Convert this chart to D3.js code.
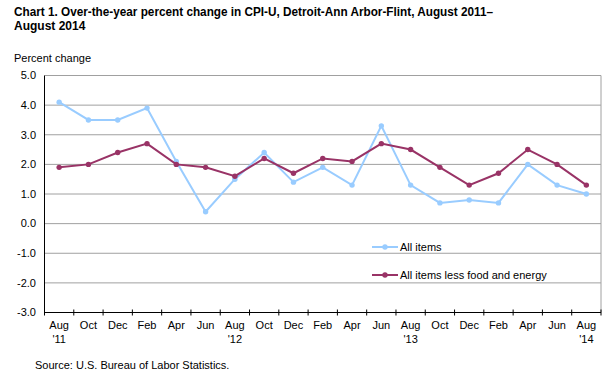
<!DOCTYPE html>
<html>
<head>
<meta charset="utf-8">
<script src="https://cdn.jsdelivr.net/npm/d3@7"></script>
<style>
  body { margin: 0; background: #fff; }
  svg text { font-family: "Liberation Sans", Arial, sans-serif; fill: #000; }
</style>
</head>
<body>
<svg id="chart"></svg>
<script>
const months = ["Aug","Oct","Dec","Feb","Apr","Jun","Aug","Oct","Dec","Feb","Apr","Jun","Aug","Oct","Dec","Feb","Apr","Jun","Aug"];
const yearLabels = ["'11","","","","","","'12","","","","","","'13","","","","","","'14"];
const allItems = [4.1,3.5,3.5,3.9,2.1,0.4,1.5,2.4,1.4,1.9,1.3,3.3,1.3,0.7,0.8,0.7,2.0,1.3,1.0];
const coreItems = [1.9,2.0,2.4,2.7,2.0,1.9,1.6,2.2,1.7,2.2,2.1,2.7,2.5,1.9,1.3,1.7,2.5,2.0,1.3];
const yTicks = [5,4,3,2,1,0,-1,-2,-3];

const width = 615, height = 376;
const margin = { top: 75.5, right: 14, bottom: 63.5, left: 44.5 };

const svg = d3.select("#chart").attr("width", width).attr("height", height);

const idx = months.map((d, i) => i);
const x = d3.scaleBand().domain(idx).range([margin.left, width - margin.right]);
const y = d3.scaleLinear().domain([-3, 5]).range([height - margin.bottom, margin.top]);

// title
svg.append("text").attr("x", 14).attr("y", 16)
   .attr("textLength", 479).attr("lengthAdjust", "spacingAndGlyphs")
   .style("font-size", "12px").style("font-weight", "bold")
   .text("Chart 1. Over-the-year percent change in CPI-U, Detroit-Ann Arbor-Flint, August 2011\u2013");
svg.append("text").attr("x", 14).attr("y", 30)
   .style("font-size", "12px").style("font-weight", "bold")
   .text("August 2014");

svg.append("text").attr("x", 14).attr("y", 62).style("font-size", "11px").text("Percent change");

// grid lines
svg.append("g").selectAll("line").data(yTicks.filter(d => d > -3)).enter().append("line")
   .attr("x1", margin.left).attr("x2", width - margin.right)
   .attr("y1", d => y(d)).attr("y2", d => y(d))
   .style("stroke", "#a0a0a0");

// right border
svg.append("line")
   .attr("x1", width - margin.right).attr("x2", width - margin.right)
   .attr("y1", margin.top).attr("y2", height - margin.bottom)
   .style("stroke", "#a0a0a0");

// y labels
svg.append("g").selectAll("text").data(yTicks).enter().append("text")
   .attr("x", 36).attr("y", d => y(d))
   .attr("text-anchor", "end").attr("dy", "0.35em")
   .style("font-size", "11px")
   .text(d => d.toFixed(1));

// left axis
svg.append("line")
   .attr("x1", margin.left).attr("x2", margin.left)
   .attr("y1", margin.top).attr("y2", height - margin.bottom)
   .style("stroke", "#000");

// bottom axis
const y0 = height - margin.bottom;
svg.append("line")
   .attr("x1", margin.left).attr("x2", width - margin.right)
   .attr("y1", y0).attr("y2", y0).style("stroke", "#000");
svg.append("g").selectAll("line").data(idx.concat([months.length])).enter().append("line")
   .attr("x1", d => d < months.length ? x(d) : x(months.length - 1) + x.bandwidth())
   .attr("x2", d => d < months.length ? x(d) : x(months.length - 1) + x.bandwidth())
   .attr("y1", y0 - 3).attr("y2", y0 + 3)
   .style("stroke", "#000");

svg.append("g").selectAll("text").data(idx).enter().append("text")
   .attr("x", i => x(i) + x.bandwidth() / 2).attr("y", y0 + 16)
   .attr("text-anchor", "middle").style("font-size", "11px")
   .text(i => months[i]);
svg.append("g").selectAll("text").data(idx.filter(i => yearLabels[i])).enter().append("text")
   .attr("x", i => x(i) + x.bandwidth() / 2).attr("y", y0 + 30)
   .attr("text-anchor", "middle").style("font-size", "11px")
   .text(i => yearLabels[i]);

svg.append("text").attr("x", 35).attr("y", 369).style("font-size", "11px")
   .text("Source: U.S. Bureau of Labor Statistics.");

// series
const series = [
  { name: "All items", values: allItems, color: "#99ccff" },
  { name: "All items less food and energy", values: coreItems, color: "#993366" }
];
const line = d3.line().x((d, i) => x(i) + x.bandwidth() / 2).y(d => y(d));

series.forEach((s, k) => {
  svg.append("path").datum(s.values)
     .attr("d", line).attr("fill", "none")
     .style("stroke", s.color).style("stroke-width", 2);
  svg.append("g").selectAll("circle").data(s.values).enter().append("circle")
     .attr("cx", (d, i) => x(i) + x.bandwidth() / 2).attr("cy", d => y(d))
     .attr("r", 2.7).attr("fill", s.color);

  // legend
  const ly = 247 + k * 28;
  svg.append("line").attr("x1", 372).attr("x2", 398).attr("y1", ly).attr("y2", ly)
     .style("stroke", s.color).style("stroke-width", 2);
  svg.append("circle").attr("cx", 385).attr("cy", ly).attr("r", 2.7).attr("fill", s.color);
  svg.append("text").attr("x", 400).attr("y", ly).attr("dy", "0.35em")
     .style("font-size", "11px").text(s.name);
});
</script>
</body>
</html>
